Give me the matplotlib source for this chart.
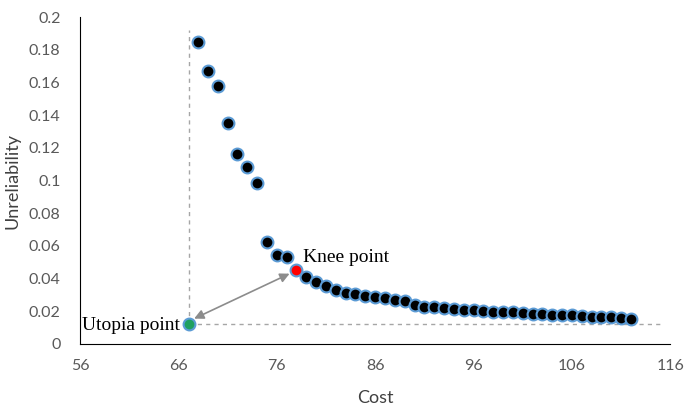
import matplotlib.pyplot as plt
import numpy as np

cost = list(range(68, 78)) + list(range(79, 113))
unrel = [0.185, 0.167, 0.158, 0.135, 0.116, 0.108, 0.0985, 0.0625, 0.0545, 0.0533,
         0.0408, 0.0377, 0.0357, 0.0330, 0.0314, 0.0304, 0.0292,
         0.0287, 0.0283, 0.0269, 0.0263, 0.0239, 0.0226, 0.0226, 0.0220, 0.0214,
         0.0208, 0.0208, 0.0202, 0.0196, 0.0194, 0.0196, 0.0190, 0.0183, 0.0183,
         0.0177, 0.0177, 0.0177, 0.0171, 0.0165, 0.0165, 0.0165, 0.0159, 0.0151]
knee = (78, 0.0453)
utopia = (67.1, 0.0122)

xticks = [56, 66, 76, 86, 96, 106, 116]
yticks = [0, 0.02, 0.04, 0.06, 0.08, 0.1, 0.12, 0.14, 0.16, 0.18, 0.2]
ytick_labels = ['0', '0.02', '0.04', '0.06', '0.08', '0.1', '0.12', '0.14', '0.16', '0.18', '0.2']

fig = plt.figure(figsize=(6.88, 4.08), dpi=100)
ax = fig.add_axes([0.1163, 0.157, 0.858, 0.801])

edge = '#5B9BD5'
# dashed guide lines from utopia point
ax.plot([utopia[0], utopia[0]], [utopia[1], 0.192], ls=(0, (3, 3)), color='#a6a6a6', lw=1, zorder=1)
ax.plot([utopia[0], 115.2], [utopia[1], utopia[1]], ls=(0, (3, 3)), color='#a6a6a6', lw=1, zorder=1)

ax.plot(cost, unrel, 'o', ms=8.5, mfc='black', mec=edge, mew=1.5, zorder=3)
ax.plot(*knee, 'o', ms=8.5, mfc='#ff0000', mec=edge, mew=1.5, zorder=3)
ax.plot(*utopia, 'o', ms=8.5, mfc='#1fa060', mec=edge, mew=1.5, zorder=3)

ax.annotate('', xy=(67.6, 0.0155), xytext=(77.3, 0.0430),
            arrowprops=dict(arrowstyle='<|-|>', color='#8c8c8c', lw=1.2,
                            mutation_scale=14, shrinkA=0, shrinkB=0), zorder=2)

serif = ['Liberation Serif', 'DejaVu Serif']
ax.text(78.7, 0.0530, 'Knee point', family=serif, fontsize=14, va='center', ha='left')
ax.text(56.2, 0.0115, 'Utopia point', family=serif, fontsize=14, va='center', ha='left')

ax.set_xlim(56, 116)
ax.set_ylim(0, 0.2)
ax.set_xticks(xticks)
ax.set_yticks(yticks)
ax.set_yticklabels(ytick_labels)
ax.tick_params(length=0, labelsize=11.5, labelcolor='#595959')
ax.tick_params(axis='y', pad=14)
ax.tick_params(axis='x', pad=11)
for lab in ax.get_xticklabels() + ax.get_yticklabels():
    lab.set_family(['Lato', 'DejaVu Sans'])
ax.spines['top'].set_visible(False)
ax.spines['right'].set_visible(False)
ax.spines['left'].set_color('black')
ax.spines['bottom'].set_color('black')
ax.set_xlabel('Cost', family=['Lato', 'DejaVu Sans'], fontsize=13, color='#404040', labelpad=12)
ax.set_ylabel('Unreliability', family=['Lato', 'DejaVu Sans'], fontsize=13, color='#404040', labelpad=6)

plt.savefig('out.png', dpi=100)
